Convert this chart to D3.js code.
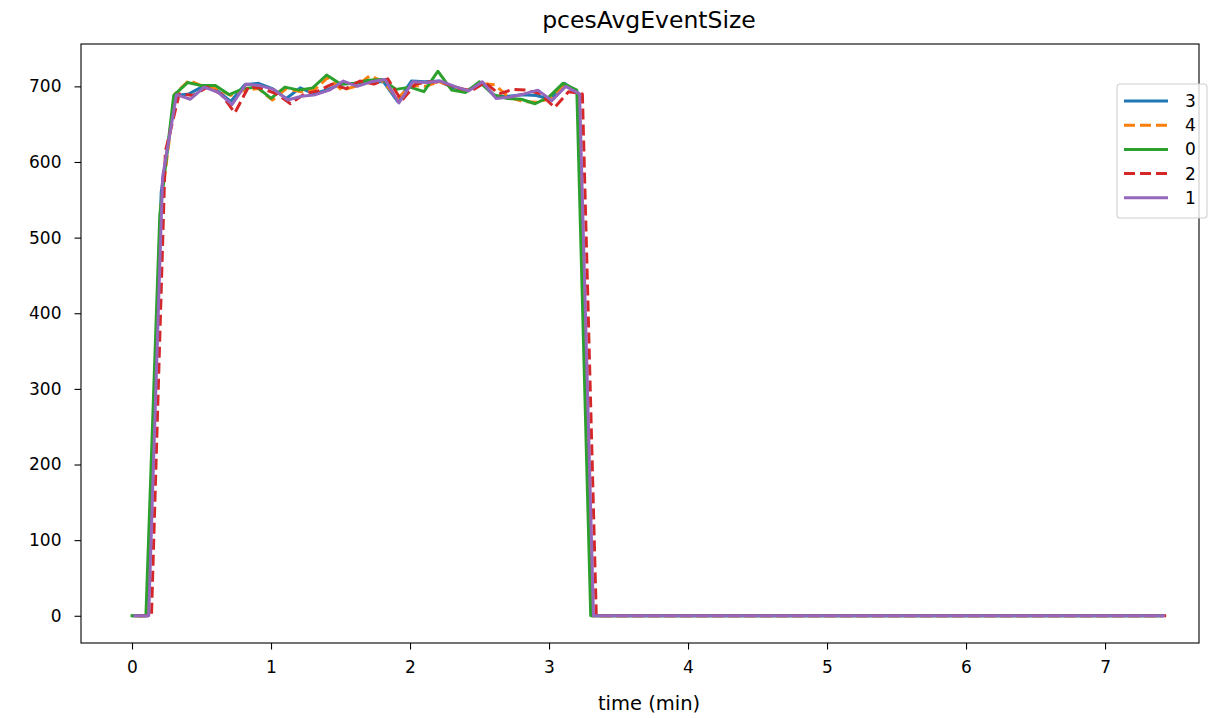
<!DOCTYPE html>
<html>
<head>
<meta charset="utf-8">
<script src="https://cdn.jsdelivr.net/npm/d3@7"></script>
<style>
  html, body { margin: 0; padding: 0; background: #fff; }
  svg { display: block; font-family: "DejaVu Sans", sans-serif; }
</style>
</head>
<body>
<svg id="chart" width="1210" height="718"></svg>
<script>
// ---- data ----
const chartTitle = "pcesAvgEventSize";
const xLabel = "time (min)";
const xTicks = [0, 1, 2, 3, 4, 5, 6, 7];
const yTicks = [0, 100, 200, 300, 400, 500, 600, 700];

// sample times (min)
const times = [0.0,0.1,0.2,0.3,0.4,0.5,0.6,0.7,0.8,0.9,1.0,1.1,1.2,1.3,1.4,1.5,1.6,1.7,1.8,1.9,
  2.0,2.1,2.2,2.3,2.4,2.5,2.6,2.7,2.8,2.9,3.0,3.1,3.2,3.3,3.4,3.5,3.6,3.7,3.8,3.9,
  4.0,4.1,4.2,4.3,4.4,4.5,4.6,4.7,4.8,4.9,5.0,5.1,5.2,5.3,5.4,5.5,5.6,5.7,5.8,5.9,
  6.0,6.1,6.2,6.3,6.4,6.5,6.6,6.7,6.8,6.9,7.0,7.1,7.2,7.3,7.4];

// idle samples after the run (all zero)
const tailZeros = [0,0,0,0,0,0,0,0,0,0,0,0,0,0,0,0,0,0,0,0,0,0,0,0,0,0,0,0,0,0,0,0,0,0,0,0,0,0,0,0,0];

const seriesNames = ["3", "4", "0", "2", "1"];
const seriesShift = [0.01, 0.01, 0.0, 0.04, 0.02];   // per-node time offset (min)
const seriesDash = [false, true, false, true, false];
const seriesColors = ["#1f77b4", "#ff7f0e", "#2ca02c", "#d62728", "#9467bd"];

const values3 = [0,0,560,688,690,700,695,680,702,704,697,684,698,690,696,703,704,706,706,680,707,706,707,698,694,705,687,687,689,688,683,704,691,0];
const values4 = [0,0,545,690,708,700,697,688,695,697,682,697,693,695,712,695,700,714,706,684,701,700,706,700,694,704,702,686,680,679,684,703,692,0];
const values0 = [0,0,530,688,705,701,701,689,697,699,684,699,695,698,715,703,704,708,709,696,699,693,720,695,692,706,689,684,683,677,686,704,695,0];
const values2 = [0,0,614,690,688,699,690,665,700,697,690,677,690,694,703,697,707,703,710,681,703,706,705,698,694,705,690,696,695,690,672,693,690,0];
const values1 = [0,0,580,689,683,699,692,676,703,701,696,682,687,689,695,707,700,706,709,678,706,705,707,700,694,706,684,686,690,695,681,700,690,0];

const seriesValues = [values3, values4, values0, values2, values1];

// ---- layout ----
const svg = d3.select("#chart");
const L = 81, R = 1199, T = 44, B = 643;
const FS = 17;

const x = d3.scaleLinear().domain([-0.367, 7.676]).range([L, R]);
const y = d3.scaleLinear().domain([-36, 756]).range([B, T]);

// title
svg.append("text")
  .attr("x", 649).attr("y", 28)
  .attr("text-anchor", "middle")
  .attr("font-size", 23.5).attr("fill", "#000")
  .text(chartTitle);

// lines
svg.append("clipPath").attr("id", "clip")
  .append("rect").attr("x", L).attr("y", T).attr("width", R - L).attr("height", B - T);

const line = d3.line().x(d => x(d[0])).y(d => y(d[1]));
const g = svg.append("g").attr("clip-path", "url(#clip)");
seriesNames.forEach((name, i) => {
  const vals = seriesValues[i].concat(tailZeros);
  const pts = vals.map((v, k) => [times[k] + seriesShift[i], v]);
  g.append("path")
    .datum(pts)
    .attr("fill", "none")
    .attr("stroke", seriesColors[i])
    .attr("stroke-width", 3)
    .attr("stroke-linejoin", "round")
    .attr("stroke-linecap", seriesDash[i] ? "butt" : "square")
    .attr("stroke-dasharray", seriesDash[i] ? "11,5" : null)
    .attr("d", line);
});

// axes
const xAxis = d3.axisBottom(x).tickValues(xTicks).tickSize(6.5).tickPadding(11).tickFormat(d3.format("d"));
const yAxis = d3.axisLeft(y).tickValues(yTicks).tickSize(6.5).tickPadding(13).tickFormat(d3.format("d"));

const gx = svg.append("g").attr("transform", `translate(0,${B})`).call(xAxis);
const gy = svg.append("g").attr("transform", `translate(${L},0)`).call(yAxis);
[gx, gy].forEach(ax => {
  ax.select(".domain").remove();
  ax.selectAll(".tick line").attr("stroke", "#000").attr("stroke-width", 1.1);
  ax.selectAll(".tick text").attr("font-size", FS).attr("fill", "#000").attr("font-family", "DejaVu Sans");
});

// frame
svg.append("rect")
  .attr("x", L).attr("y", T).attr("width", R - L).attr("height", B - T)
  .attr("fill", "none").attr("stroke", "#000").attr("stroke-width", 1.1);

// x label
svg.append("text")
  .attr("x", 649).attr("y", 710)
  .attr("text-anchor", "middle")
  .attr("font-size", 19.5).attr("fill", "#000")
  .text(xLabel);

// legend
const lg = svg.append("g");
lg.append("rect")
  .attr("x", 1117).attr("y", 84).attr("width", 90).attr("height", 134)
  .attr("rx", 3).attr("fill", "#fff").attr("fill-opacity", 0.8)
  .attr("stroke", "#d0d0d0").attr("stroke-width", 1.1);
seriesNames.forEach((name, i) => {
  const yy = 101 + i * 24.2;
  lg.append("line")
    .attr("x1", 1124).attr("x2", 1168).attr("y1", yy).attr("y2", yy)
    .attr("stroke", seriesColors[i]).attr("stroke-width", 3)
    .attr("stroke-dasharray", seriesDash[i] ? "11,5" : null);
  lg.append("text")
    .attr("x", 1185).attr("y", yy + 6)
    .attr("font-size", FS).attr("fill", "#000")
    .text(name);
});
</script>
</body>
</html>
